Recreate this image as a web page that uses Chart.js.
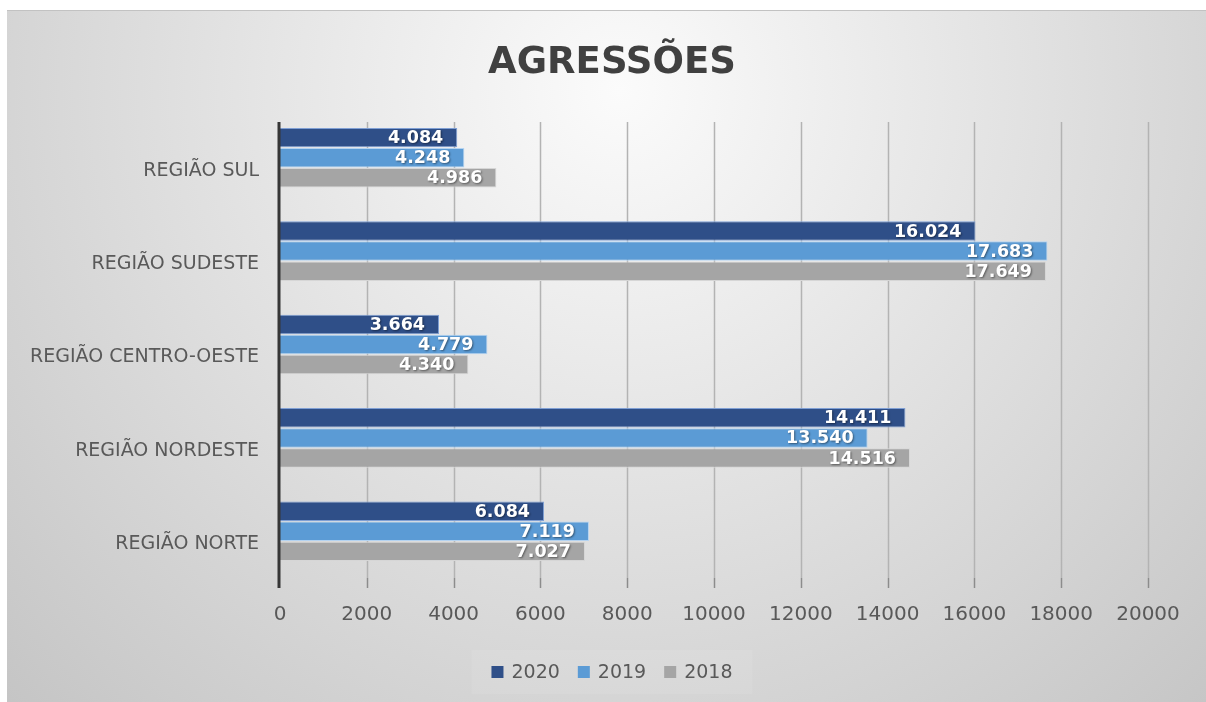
<!DOCTYPE html>
<html>
<head>
<meta charset="utf-8">
<script src="https://cdn.jsdelivr.net/npm/chart.js@4/dist/chart.umd.min.js"></script>
<style>
  html, body { margin: 0; padding: 0; background: #ffffff; }
  #wrap { width: 1206px; height: 702px; }
</style>
</head>
<body>
<div id="wrap"><canvas id="chart" width="1206" height="702"></canvas></div>
<script>
const titulo = 'AGRESSÕES';
const regioes = ['REGIÃO SUL', 'REGIÃO SUDESTE', 'REGIÃO CENTRO-OESTE', 'REGIÃO NORDESTE', 'REGIÃO NORTE'];
const anos = ['2020', '2019', '2018'];
const valores2020 = [4084, 16024, 3664, 14411, 6084];
const valores2019 = [4248, 17683, 4779, 13540, 7119];
const valores2018 = [4986, 17649, 4340, 14516, 7027];
const xTicks = [0, 2000, 4000, 6000, 8000, 10000, 12000, 14000, 16000, 18000, 20000];

const cores = ['#2f4f88', '#5b9bd5', '#a5a5a5'];
const bordas = ['#7f9fd4', '#b4d3f1', '#d6d6d6'];

function fmt(v) {
  return String(v).replace(/\B(?=(\d{3})+(?!\d))/g, '.');
}

// fundo cinza em degrade + titulo + legenda
const fundo = {
  id: 'fundo',
  beforeDraw(chart) {
    const ctx = chart.ctx;
    ctx.save();
    ctx.fillStyle = '#ffffff';
    ctx.fillRect(0, 0, chart.width, chart.height);
    const g = ctx.createRadialGradient(620, 90, 0, 620, 90, 880);
    g.addColorStop(0, '#fbfbfb');
    g.addColorStop(1, '#c4c4c4');
    ctx.fillStyle = g;
    ctx.fillRect(7, 10, chart.width - 7, chart.height - 10);
    ctx.fillStyle = '#c2c2c2';
    ctx.fillRect(7, 10, chart.width - 7, 1);

    // titulo
    ctx.fillStyle = '#404040';
    ctx.font = 'bold 37px "DejaVu Sans"';
    ctx.textAlign = 'center';
    ctx.textBaseline = 'middle';
    ctx.fillText(titulo, 612, 63);

    // legenda
    ctx.font = '19px "DejaVu Sans"';
    ctx.textAlign = 'left';
    const box = 12, gapTxt = 8, gapItem = 18;
    const widths = anos.map(a => box + gapTxt + ctx.measureText(a).width);
    const total = widths.reduce((s, w) => s + w, 0) + gapItem * (anos.length - 1);
    ctx.fillStyle = 'rgba(255,255,255,0.08)';
    ctx.fillRect(612 - total / 2 - 20, 650, total + 40, 44);
    let x = 612 - total / 2;
    const yc = 672;
    anos.forEach((a, i) => {
      ctx.fillStyle = cores[i];
      ctx.fillRect(x, yc - box / 2, box, box);
      ctx.fillStyle = '#595959';
      ctx.fillText(a, x + box + gapTxt, yc + 1);
      x += widths[i] + gapItem;
    });
    ctx.restore();
  },
  beforeDatasetsDraw(chart) {
    // linhas de grade verticais e eixo vertical
    const ctx = chart.ctx;
    const xs = chart.scales.x;
    const top = chart.chartArea.top + 11;
    const bottom = chart.chartArea.bottom + 10;
    ctx.save();
    xTicks.forEach(v => {
      if (v === 0) return;
      const px = Math.round(xs.getPixelForValue(v)) + 0.5;
      ctx.strokeStyle = '#b3b3b3';
      ctx.lineWidth = 1.5;
      ctx.beginPath();
      ctx.moveTo(px, top);
      ctx.lineTo(px, chart.chartArea.bottom);
      ctx.stroke();
      ctx.strokeStyle = '#8c8c8c';
      ctx.beginPath();
      ctx.moveTo(px, chart.chartArea.bottom);
      ctx.lineTo(px, bottom);
      ctx.stroke();
    });
    ctx.restore();
  },
  afterDatasetsDraw(chart) {
    const ctx = chart.ctx;
    const x0 = chart.scales.x.getPixelForValue(0);
    ctx.save();
    ctx.strokeStyle = '#363636';
    ctx.lineWidth = 3;
    ctx.beginPath();
    ctx.moveTo(x0 - 1, chart.chartArea.top + 11);
    ctx.lineTo(x0 - 1, chart.chartArea.bottom + 10);
    ctx.stroke();
    ctx.restore();
  }
};

const rotulos = {
  id: 'rotulos',
  afterDatasetsDraw(chart) {
    const ctx = chart.ctx;
    ctx.save();
    ctx.font = 'bold 17.5px "DejaVu Sans"';
    ctx.textAlign = 'right';
    ctx.textBaseline = 'middle';
    ctx.fillStyle = '#ffffff';
    ctx.shadowColor = 'rgba(0,0,0,0.45)';
    ctx.shadowBlur = 2;
    ctx.shadowOffsetX = 1;
    ctx.shadowOffsetY = 1;
    chart.data.datasets.forEach((ds, i) => {
      const meta = chart.getDatasetMeta(i);
      meta.data.forEach((bar, j) => {
        ctx.fillText(fmt(ds.data[j]), bar.x - 14, bar.y + 1);
      });
    });
    ctx.restore();
  }
};

const ctx = document.getElementById('chart').getContext('2d');
new Chart(ctx, {
  type: 'bar',
  data: {
    labels: regioes,
    datasets: [
      { label: anos[0], data: valores2020, backgroundColor: cores[0], borderColor: bordas[0], borderWidth: 1 },
      { label: anos[1], data: valores2019, backgroundColor: cores[1], borderColor: bordas[1], borderWidth: 1 },
      { label: anos[2], data: valores2018, backgroundColor: cores[2], borderColor: bordas[2], borderWidth: 1 }
    ]
  },
  options: {
    indexAxis: 'y',
    responsive: false,
    animation: false,
    categoryPercentage: 0.645,
    barPercentage: 0.97,
    layout: { padding: { left: 0, right: 58, top: 111, bottom: 58 } },
    plugins: {
      title: { display: false },
      legend: { display: false },
      tooltip: { enabled: false }
    },
    scales: {
      x: {
        min: 0,
        max: 20000,
        afterBuildTicks(scale) {
          scale.ticks = xTicks.map(v => ({ value: v }));
        },
        afterFit(scale) { scale.height = 66; },
        grid: { display: false },
        border: { display: false },
        ticks: {
          color: '#595959',
          padding: 17,
          font: { family: 'DejaVu Sans', size: 20 },
          callback: v => String(v)
        }
      },
      y: {
        afterFit(scale) { scale.width = 280; },
        grid: { display: false },
        border: { display: false },
        ticks: {
          color: '#595959',
          padding: 13,
          labelOffset: 13,
          font: { family: 'DejaVu Sans', size: 19 }
        }
      }
    }
  },
  plugins: [fundo, rotulos]
});
</script>
</body>
</html>
